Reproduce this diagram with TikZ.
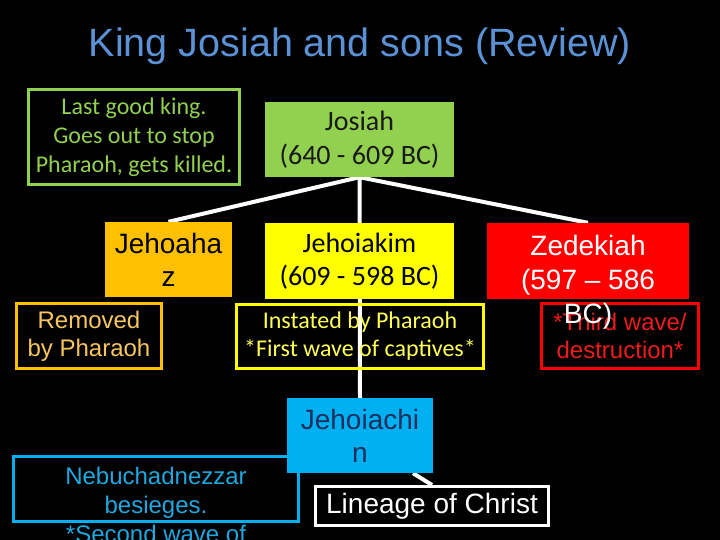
\documentclass[tikz,border=0pt]{standalone}
\usepackage{fontspec}
\setmainfont{Liberation Sans}
\newfontfamily\calibri{Carlito}
\usetikzlibrary{calc}
\pgfdeclarelayer{bg}
\pgfdeclarelayer{lines}
\pgfsetlayers{bg,lines,main}
\definecolor{titleblue}{HTML}{5B92D6}
\definecolor{kgreen}{HTML}{92D050}
\definecolor{korange}{HTML}{FFC000}
\definecolor{korangetext}{HTML}{F8C660}
\definecolor{kyellow}{HTML}{FFFF00}
\definecolor{kyellowtext}{HTML}{FFFF55}
\definecolor{kred}{HTML}{FF0000}
\definecolor{kredtext}{HTML}{EE1C1C}
\definecolor{kblue}{HTML}{00B0F0}
\definecolor{kbluetext}{HTML}{1FA8E0}
\definecolor{knavy}{HTML}{1F2F5F}
\newcommand{\fsz}[2]{\fontsize{#1}{#2}\selectfont}
\tikzset{
  box/.style={rectangle, inner sep=0pt, align=center},
  filled/.style={box, fill=#1},
  outlined/.style={box, draw=#1, line width=3pt},
  conn/.style={draw=white, line width=4pt},
}
\begin{document}
\begin{tikzpicture}[x=1pt,y=-1pt]
\begin{pgfonlayer}{bg}
\fill[black] (0,0) rectangle (720,540);
\end{pgfonlayer}
\useasboundingbox (0,0) rectangle (720,540);

% title
\node[anchor=base, text=titleblue, font=\fsz{39.5}{46}] (title) at (360,57) {King Josiah and sons (Review)};

% boxes
\node[outlined=kgreen, minimum width=211pt, minimum height=95pt, text=kgreen, font=\calibri\fsz{24}{29}] (note) at (134,137) {Last good king.\\Goes out to stop\\Pharaoh, gets killed.};
\node[filled=kgreen, minimum width=189pt, minimum height=75pt, text=black!90, font=\calibri\fsz{28}{34}] (josiah) at (359.5,139.5) {Josiah\\(640 - 609 BC)};

\node[filled=korange, minimum width=127pt, minimum height=75pt, text=black, font=\fsz{28}{33}] (jehoahaz) at (168.5,259.5) {Jehoaha\\z};
\node[outlined=korange, minimum width=145pt, minimum height=65pt, text=korangetext, font=\fsz{24}{28}] (removed) at (89,336) {Removed\\by Pharaoh};

\node[filled=kyellow, minimum width=189pt, minimum height=76pt, text=black, font=\calibri\fsz{28}{33}] (jehoiakim) at (359.5,261) {Jehoiakim\\(609 - 598 BC)};
\node[outlined=kyellow, minimum width=247pt, minimum height=64pt, text=kyellowtext, font=\calibri\fsz{24}{28}] (instated) at (360,336.5) {Instated by Pharaoh\\*First wave of captives*};

\node[filled=kred, minimum width=202pt, minimum height=76pt] (zedekiah) at (588,261) {};
\node[outlined=kred, minimum width=157pt, minimum height=65pt, text=kredtext, font=\fsz{24}{28}] (third) at (620,336) {*Third wave/\\destruction*};
\node[box, anchor=north, text=white, font=\fsz{28}{34}] (zedtext) at (588,235) {Zedekiah\\(597 – 586\\BC)};

\node[filled=kblue, minimum width=146pt, minimum height=75pt, text=knavy, font=\fsz{28}{33}] (jehoiachin) at (360,435.5) {Jehoiachi\\n};
\node[outlined=kblue, minimum width=285pt, minimum height=65pt] (nebu) at (156,489) {};
\node[box, anchor=north, text=kbluetext, font=\fsz{24}{29}] (nebutext) at (156,466.5) {Nebuchadnezzar\\besieges.\\*Second wave of};
\node[outlined=white, minimum width=233pt, minimum height=39pt, text=white, font=\fsz{28}{33}] (lineage) at (432,506) {Lineage of Christ};

% connectors
\begin{pgfonlayer}{lines}
\draw[conn] (josiah.south) -- (jehoahaz.north);
\draw[conn] (josiah.south) -- (zedekiah.north);
\draw[conn] (josiah.south) -- (jehoiachin.north);
\draw[conn] ($(jehoiachin.south)+(53,0)$) -- (lineage.north);
\end{pgfonlayer}
\end{tikzpicture}
\end{document}
